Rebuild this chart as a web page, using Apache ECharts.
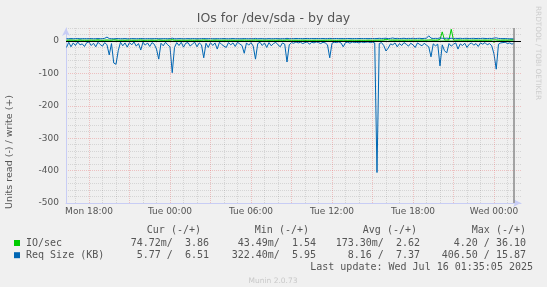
<!DOCTYPE html>
<html><head><meta charset="utf-8">
<script src="https://cdn.jsdelivr.net/npm/echarts@6/dist/echarts.min.js"></script>
<style>html,body{margin:0;padding:0;background:#f0f0f0}#c{width:547px;height:287px}</style>
</head><body><div id="c"></div>
<script>
// time grid: hours since Mon 00:00, one sample every 10 minutes
const startHour = 16.3333;
const stepHour = 1 / 6;
const axisMinHour = 16.2963;
const axisMaxHour = 50.0;
const nowHour = 49.48;

const xLabelHours = [18, 24, 30, 36, 42, 48];
const xLabelNames = ['Mon 18:00', 'Tue 00:00', 'Tue 06:00', 'Tue 12:00', 'Tue 18:00', 'Wed 00:00'];
const minorGridHours = [17,19,20,22,23,25,26,28,29,31,32,34,35,37,38,40,41,43,44,46,47,49];
const majorGridHours = [18,21,24,27,30,33,36,39,42,45,48];

// IO/sec write (+)
const ioWrite = [
2.4,2.8,3.1,2.6,2.2,2.9,3.4,2.5,2.7,2.3,
2.6,3.0,2.4,2.8,3.6,2.5,2.2,2.7,3.1,2.6,
2.9,3.8,3.2,2.5,2.4,2.7,2.3,2.8,3.0,2.5,
2.6,2.4,2.9,3.3,2.5,2.2,2.7,2.6,2.8,2.4,
2.5,3.5,2.7,2.3,2.6,2.9,3.0,4.1,2.8,2.5,
2.4,2.6,2.7,2.3,2.5,2.8,2.6,2.4,2.9,2.5,
2.6,3.4,2.7,2.5,2.3,2.6,2.8,2.9,2.4,2.5,
2.7,2.6,2.4,2.8,2.5,2.3,2.6,2.7,2.5,3.1,
2.6,2.4,2.5,2.7,3.3,2.6,2.4,2.5,2.8,2.6,
2.3,2.5,2.7,2.4,2.6,2.8,2.5,2.4,3.5,2.6,
2.4,2.3,2.5,2.2,2.4,2.6,2.3,2.5,2.4,2.2,
2.3,2.5,2.4,2.2,2.3,2.5,2.6,3.0,2.4,2.3,
2.2,2.4,2.3,2.7,2.4,2.2,2.3,2.5,2.4,2.2,
2.3,2.4,2.2,2.3,2.5,2.4,2.3,2.4,2.6,2.8,
2.9,3.2,5.5,3.4,2.8,3.0,2.7,3.1,2.6,2.9,
2.5,2.8,3.0,2.6,2.7,2.9,2.5,2.8,3.2,2.6,
2.7,3.0,3.3,2.8,2.6,3.1,4.5,28.0,3.2,2.9,
3.5,36.1,3.0,2.7,2.9,3.2,2.6,2.8,3.0,2.5,
2.7,2.9,2.6,2.8,2.5,2.7,3.0,2.6,2.8,3.1,
3.3,3.4,2.8,2.6,2.9,3.2,2.7,3.5,3.9,3.86
];
// IO/sec read (-)
const ioRead = [
-0.1,-0.2,-0.1,-0.3,-0.1,-0.1,-0.2,-0.1,-0.4,-0.1,
-0.2,-0.1,-0.1,-0.3,-0.1,-0.2,-0.1,-0.1,-0.2,-0.5,
-0.1,-0.6,-0.7,-0.3,-0.1,-0.2,-0.1,-0.1,-0.2,-0.1,
-0.1,-0.2,-0.1,-0.3,-0.1,-0.1,-0.2,-0.1,-0.1,-0.2,
-0.2,-0.4,-0.1,-0.1,-0.2,-0.1,-0.1,-0.8,-0.2,-0.1,
-0.1,-0.1,-0.2,-0.1,-0.1,-0.2,-0.1,-0.1,-0.2,-0.1,
-0.1,-0.4,-0.1,-0.2,-0.1,-0.1,-0.1,-0.2,-0.1,-0.1,
-0.2,-0.1,-0.1,-0.1,-0.2,-0.1,-0.1,-0.1,-0.1,-0.3,
-0.1,-0.1,-0.2,-0.1,-0.4,-0.1,-0.1,-0.1,-0.2,-0.1,
-0.1,-0.2,-0.1,-0.1,-0.1,-0.2,-0.1,-0.1,-0.5,-0.1,
-0.05,-0.05,-0.1,-0.05,-0.05,-0.1,-0.05,-0.05,-0.1,-0.05,
-0.05,-0.05,-0.1,-0.05,-0.05,-0.05,-0.1,-0.3,-0.05,-0.05,
-0.05,-0.05,-0.1,-0.2,-0.05,-0.05,-0.05,-0.05,-0.1,-0.05,
-0.05,-0.05,-0.05,-0.1,-0.05,-0.05,-0.05,-0.05,-0.6,-0.1,
-0.2,-0.3,-0.5,-2.0,-0.3,-0.2,-0.1,-0.3,-0.2,-0.2,
-0.1,-0.2,-0.3,-0.1,-0.2,-0.3,-0.1,-0.2,-0.3,-0.1,
-0.2,-0.3,-0.6,-0.2,-0.3,-0.2,-0.9,-0.2,-0.4,-0.5,
-0.2,-0.3,-0.2,-0.1,-0.4,-0.2,-0.3,-0.1,-0.3,-0.2,
-0.1,-0.3,-0.2,-0.3,-0.1,-0.2,-0.1,-0.2,-0.2,-0.3,
-4.2,-0.8,-0.2,-0.1,-0.1,-0.1,-0.2,-0.1,-0.1,-0.07
];
// Req Size (KB) write (+)
const reqWrite = [
7.1,6.8,7.4,6.9,7.2,7.6,6.7,7.0,7.3,6.9,
7.2,7.5,6.8,7.1,7.4,6.9,7.0,8.2,12.0,7.3,
7.0,6.8,7.2,7.5,6.9,7.1,7.3,6.8,7.0,7.4,
7.1,6.9,7.2,7.6,7.0,6.8,7.3,7.1,6.9,7.2,
7.4,7.0,6.8,7.1,7.3,6.9,7.2,8.5,7.0,6.9,
7.1,7.3,6.8,7.0,7.2,6.9,7.4,7.1,6.8,7.0,
7.2,7.6,6.9,7.1,7.3,7.0,6.8,7.2,6.9,7.1,
7.3,7.0,6.8,7.2,7.4,6.9,7.1,7.0,6.8,7.5,
7.1,6.9,7.2,7.0,7.8,6.9,7.1,7.3,6.8,7.0,
7.2,6.9,7.1,7.4,7.0,6.8,7.2,6.9,8.0,7.1,
7.4,7.2,7.6,7.3,7.5,7.2,7.4,7.7,7.3,7.5,
7.2,7.6,7.4,7.3,7.5,7.2,7.4,7.8,7.3,7.5,
7.6,7.4,7.2,7.5,7.3,7.6,7.4,7.2,7.5,7.3,
7.4,7.6,7.3,7.5,7.2,7.4,7.6,7.3,7.5,8.1,
7.6,7.9,8.4,7.2,7.8,9.1,7.5,8.0,7.3,7.7,
8.2,7.4,7.9,7.6,8.3,7.5,7.8,8.1,7.4,7.9,
8.4,15.9,8.8,7.6,8.0,7.7,9.5,8.2,7.9,8.6,
7.8,8.3,7.6,8.0,7.7,8.2,7.5,7.9,8.1,7.6,
7.8,8.0,7.5,7.9,7.6,8.2,7.7,7.4,7.9,7.6,
8.8,9.6,7.8,7.5,7.2,7.6,7.0,6.8,6.6,6.51
];
// Req Size (KB) read (-)
const reqRead = [
-20,-4,-18,-6,-14,-3,-12,-9,-17,-5,
-3,-14,-7,-18,-4,-11,-16,-5,-12,-43,
-8,-68,-72,-30,-4,-15,-6,-19,-5,-12,
-3,-16,-8,-28,-4,-13,-6,-17,-5,-10,
-25,-56,-7,-15,-4,-12,-18,-98,-20,-5,
-14,-4,-19,-7,-5,-16,-9,-4,-18,-6,
-12,-52,-7,-20,-5,-14,-6,-25,-4,-11,
-16,-20,-5,-12,-6,-17,-4,-9,-14,-38,
-6,-13,-5,-16,-56,-8,-4,-14,-6,-20,
-5,-15,-8,-4,-12,-18,-6,-10,-65,-12,
-5,-7,-3,-6,-4,-8,-5,-3,-10,-4,
-6,-3,-5,-8,-4,-6,-12,-52,-7,-4,
-5,-3,-6,-18,-5,-4,-7,-3,-5,-4,
-6,-3,-5,-4,-3,-5,-4,-6,-406,-8,
-5,-14,-31,-22,-9,-12,-6,-18,-8,-14,
-5,-10,-16,-7,-12,-20,-6,-11,-15,-7,
-13,-18,-49,-9,-15,-10,-77,-12,-30,-37,
-8,-16,-10,-6,-25,-9,-14,-7,-20,-10,
-6,-13,-8,-17,-6,-10,-5,-12,-8,-15,
-40,-87,-10,-6,-5,-4,-8,-6,-10,-5.77
];

const legendNames = ['IO/sec', 'Req Size (KB)'];
const legendColors = ['#00cc00', '#0066b3'];
const legendHeaders = ['Cur (-/+)', 'Min (-/+)', 'Avg (-/+)', 'Max (-/+)'];
const ioStats = ['74.72m/  3.86', '43.49m/  1.54', '173.30m/  2.62', '4.20 / 36.10'];
const reqStats = ['5.77 /  6.51', '322.40m/  5.95', '8.16 /  7.37', '406.50 / 15.87'];
const lastUpdate = 'Last update: Wed Jul 16 01:35:05 2025';

const toPairs = arr => arr.map((v, i) => [startHour + i * stepHour, v]);

const MAJOR = 'rgba(230,90,90,0.32)';
const MINOR = 'rgba(0,0,0,0.11)';
const sans = 'DejaVu Sans';
const txt = '#555';

const headerRight = [201, 309, 417, 526];
const valueRight = [209, 316, 420, 526];

const graphics = [
  {type:'text', left:'center', top:12, style:{text:'IOs for /dev/sda - by day', font:'12.5px "DejaVu Sans"', fill:txt}},
  {type:'text', x:10, y:152, rotation:Math.PI/2, style:{text:'Units read (-) / write (+)', font:'9.5px "DejaVu Sans"', fill:txt, textAlign:'center', textVerticalAlign:'middle'}},
  {type:'text', x:538, y:53, rotation:-Math.PI/2, style:{text:'RRDTOOL / TOBI OETIKER', font:'7.3px "DejaVu Sans"', fill:'#cdcdcd', textAlign:'center', textVerticalAlign:'middle'}},
  {type:'text', x:273, y:281, style:{text:'Munin 2.0.73', font:'7.5px "DejaVu Sans"', fill:'#c8c8c8', textAlign:'center', textVerticalAlign:'middle'}},
  {type:'text', x:533, y:267, style:{text:lastUpdate, font:'10px "DejaVu Sans Mono"', fill:txt, textAlign:'right', textVerticalAlign:'middle'}}
];
legendHeaders.forEach((h, k) => graphics.push({type:'text', x:headerRight[k], y:230, style:{text:h, font:'10px "DejaVu Sans Mono"', fill:txt, textAlign:'right', textVerticalAlign:'middle'}}));
[ioStats, reqStats].forEach((row, r) => {
  const y = 243 + r * 12.2;
  graphics.push({type:'rect', shape:{x:14, y:y - 3, width:6, height:6}, style:{fill:legendColors[r]}});
  graphics.push({type:'text', x:26, y:y, style:{text:legendNames[r], font:'10px "DejaVu Sans Mono"', fill:txt, textAlign:'left', textVerticalAlign:'middle'}});
  row.forEach((s, k) => graphics.push({type:'text', x:valueRight[k], y:y, style:{text:s, font:'10px "DejaVu Sans Mono"', fill:txt, textAlign:'right', textVerticalAlign:'middle'}}));
});

const lineSeries = (data, color) => ({
  type:'line', data:toPairs(data), showSymbol:false, symbol:'none', silent:true,
  lineStyle:{color:color, width:1}, itemStyle:{color:color}, emphasis:{disabled:true}
});

const chart = echarts.init(document.getElementById('c'), null, {renderer:'canvas'});
chart.setOption({
  animation:false,
  backgroundColor:'#f0f0f0',
  grid:{left:66, right:26, top:28, bottom:84, containLabel:false},
  xAxis:{
    type:'value', min:axisMinHour, max:axisMaxHour,
    axisLine:{show:true, onZero:false, lineStyle:{color:'#c8cdf5', width:1}, symbol:['none','arrow'], symbolSize:[6,8]},
    axisTick:{show:false},
    splitLine:{show:false},
    axisLabel:{customValues:xLabelHours, formatter:v => xLabelNames[xLabelHours.indexOf(Math.round(v))] || '', color:txt, fontSize:9, fontFamily:sans, margin:4}
  },
  yAxis:{
    type:'value', min:-500, max:40, interval:20,
    axisLine:{show:true, lineStyle:{color:'#c8cdf5', width:1}, symbol:['none','arrow'], symbolSize:[6,8]},
    axisTick:{show:false},
    axisLabel:{formatter:v => (v % 100 === 0 ? String(v) : ''), color:txt, fontSize:9, fontFamily:sans, margin:7},
    splitLine:{show:true, lineStyle:{type:'dotted', width:1, color:[MAJOR, MINOR, MINOR, MINOR, MINOR]}}
  },
  graphic:graphics,
  series:[
    {type:'line', data:[], silent:true, z:1,
      markLine:{silent:true, symbol:['none','none'], label:{show:false}, animation:false,
        data:[
          ...minorGridHours.map(h => ({xAxis:h, lineStyle:{color:MINOR, type:'dotted', width:1}})),
          ...majorGridHours.map(h => ({xAxis:h, lineStyle:{color:MAJOR, type:'dotted', width:1}})),
          {xAxis:nowHour, lineStyle:{color:'#8a8a8a', type:'solid', width:1.5}},
          {yAxis:0, lineStyle:{color:'#000', type:'solid', width:1}}
        ]}},
    lineSeries(ioRead, '#00cc00'),
    lineSeries(ioWrite, '#00cc00'),
    lineSeries(reqRead, '#0066b3'),
    lineSeries(reqWrite, '#0066b3')
  ]
});
</script></body></html>
